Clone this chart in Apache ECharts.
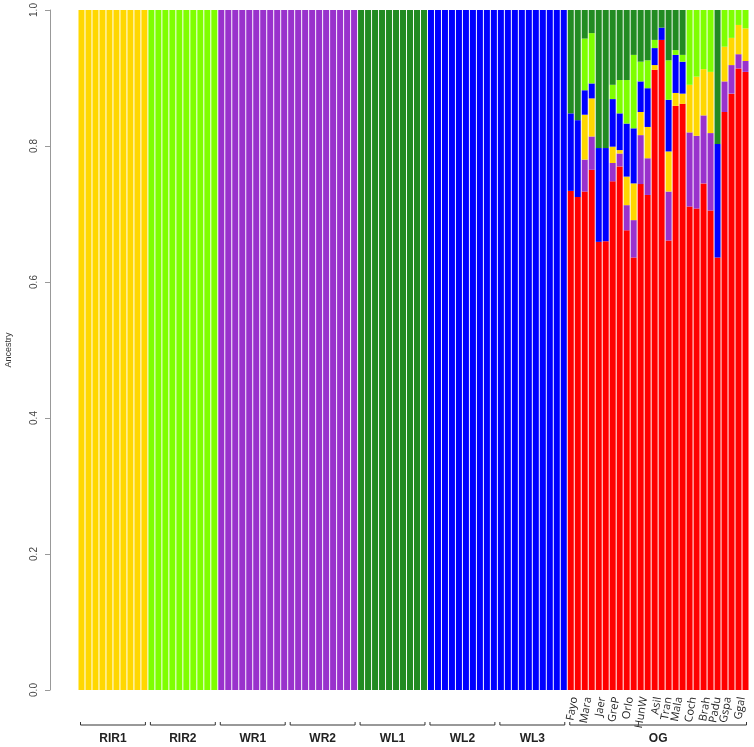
<!DOCTYPE html>
<html>
<head>
<meta charset="utf-8">
<script src="https://cdn.jsdelivr.net/npm/echarts@6/dist/echarts.min.js"></script>
<style>
  html, body { margin: 0; padding: 0; background: #fff; }
  #chart { width: 754px; height: 747px; }
</style>
</head>
<body>
<div id="chart"></div>
<script>
// sample groups along x (one bar per individual)
var groups = ['RIR1', 'RIR2', 'WR1', 'WR2', 'WL1', 'WL2', 'WL3', 'OG'];
var groupSizes = [10, 10, 10, 10, 10, 10, 10, 26];

// breeds inside OG and how many bars each has
var breeds = ['Fayo', 'Mara', 'Jaer', 'GreP', 'Orlo', 'HunW', 'Asil', 'Tran', 'Mala', 'Coch', 'Brah', 'Padu', 'Gspa', 'Ggal'];
var breedSizes = [2, 2, 2, 2, 2, 2, 2, 1, 2, 2, 2, 1, 2, 2];

var yTicks = [0, 0.2, 0.4, 0.6, 0.8, 1.0];

// reference populations (70 bars: RIR1, RIR2, WR1, WR2, WL1, WL2, WL3)
var refRed    = [0,0,0,0,0,0,0,0,0,0, 0,0,0,0,0,0,0,0,0,0, 0,0,0,0,0,0,0,0,0,0, 0,0,0,0,0,0,0,0,0,0, 0,0,0,0,0,0,0,0,0,0, 0,0,0,0,0,0,0,0,0,0, 0,0,0,0,0,0,0,0,0,0];
var refPurple = [0,0,0,0,0,0,0,0,0,0, 0,0,0,0,0,0,0,0,0,0, 1,1,1,1,1,1,1,1,1,1, 1,1,1,1,1,1,1,1,1,1, 0,0,0,0,0,0,0,0,0,0, 0,0,0,0,0,0,0,0,0,0, 0,0,0,0,0,0,0,0,0,0];
var refYellow = [1,1,1,1,1,1,1,1,1,1, 0,0,0,0,0,0,0,0,0,0, 0,0,0,0,0,0,0,0,0,0, 0,0,0,0,0,0,0,0,0,0, 0,0,0,0,0,0,0,0,0,0, 0,0,0,0,0,0,0,0,0,0, 0,0,0,0,0,0,0,0,0,0];
var refBlue   = [0,0,0,0,0,0,0,0,0,0, 0,0,0,0,0,0,0,0,0,0, 0,0,0,0,0,0,0,0,0,0, 0,0,0,0,0,0,0,0,0,0, 0,0,0,0,0,0,0,0,0,0, 1,1,1,1,1,1,1,1,1,1, 1,1,1,1,1,1,1,1,1,1];
var refLGreen = [0,0,0,0,0,0,0,0,0,0, 1,1,1,1,1,1,1,1,1,1, 0,0,0,0,0,0,0,0,0,0, 0,0,0,0,0,0,0,0,0,0, 0,0,0,0,0,0,0,0,0,0, 0,0,0,0,0,0,0,0,0,0, 0,0,0,0,0,0,0,0,0,0];
var refDGreen = [0,0,0,0,0,0,0,0,0,0, 0,0,0,0,0,0,0,0,0,0, 0,0,0,0,0,0,0,0,0,0, 0,0,0,0,0,0,0,0,0,0, 1,1,1,1,1,1,1,1,1,1, 0,0,0,0,0,0,0,0,0,0, 0,0,0,0,0,0,0,0,0,0];

// OG individuals (26 bars)
var ogRed    = [.734,.725,.733,.765,.659,.660,.748,.770,.676,.636,.744,.728,.912,.956,.661,.859,.862,.711,.708,.745,.705,.636,.850,.877,.914,.909];
var ogPurple = [0,0,.047,.049,0,0,.027,.019,.037,.055,.072,.054,0,0,.072,0,0,.109,.107,.100,.114,0,.045,.042,.021,.016];
var ogYellow = [0,0,.066,.056,0,0,.024,.005,.042,.054,.034,.046,.007,0,.059,.019,.015,.070,.087,.068,.090,0,.051,.040,.043,.048];
var ogBlue   = [.114,.113,.036,.022,.138,.137,.070,.054,.078,.081,.045,.057,.025,.018,.076,.056,.047,0,0,0,0,.167,0,0,0,0];
var ogLGreen = [0,0,.076,.074,0,0,.021,.049,.064,.108,.029,.041,.012,0,.058,.007,.010,.110,.098,.087,.091,0,.054,.041,.022,.027];
var ogDGreen = [.152,.162,.042,.034,.203,.203,.110,.103,.103,.066,.076,.074,.044,.026,.074,.059,.066,0,0,0,0,.197,0,0,0,0];

var clusters = [
  { name: 'K1', color: '#FF0000', data: refRed.concat(ogRed) },
  { name: 'K2', color: '#9932CC', data: refPurple.concat(ogPurple) },
  { name: 'K3', color: '#FFD700', data: refYellow.concat(ogYellow) },
  { name: 'K4', color: '#0000FF', data: refBlue.concat(ogBlue) },
  { name: 'K5', color: '#7FFF00', data: refLGreen.concat(ogLGreen) },
  { name: 'K6', color: '#228B22', data: refDGreen.concat(ogDGreen) }
];

var nBars = refRed.length + ogRed.length;
var cats = [];
for (var i = 0; i < nBars; i++) cats.push('s' + i);

// half-bar label axis so breed names can sit between their two bars
var halfCats = [];
for (var i = 0; i <= nBars * 2; i++) halfCats.push('');
var pos = refRed.length;
breeds.forEach(function (b, j) {
  halfCats[pos * 2 + breedSizes[j]] = b;
  pos += breedSizes[j];
});

// group bracket ranges
var brackets = [];
var start = 0;
groups.forEach(function (g, j) {
  brackets.push([start, start + groupSizes[j] - 1, 0, g]);
  start += groupSizes[j];
});

var chart = echarts.init(document.getElementById('chart'));

var series = clusters.map(function (c) {
  return {
    name: c.name,
    type: 'bar',
    stack: 'q',
    barCategoryGap: '14%',
    itemStyle: { color: c.color },
    data: c.data
  };
});

series.push({
  type: 'custom',
  clip: false,
  silent: true,
  encode: { x: [0, 1], y: 2 },
  data: brackets,
  renderItem: function (params, api) {
    var p0 = api.coord([api.value(0), 0]);
    var p1 = api.coord([api.value(1), 0]);
    var half = api.size([1, 0])[0] / 2;
    var x0 = p0[0] - half + 2.5;
    var x1 = p1[0] + half - 2.5;
    var y = p0[1] + 35;
    return {
      type: 'group',
      children: [
        {
          type: 'polyline',
          shape: { points: [[x0, y - 3], [x0, y], [x1, y], [x1, y - 3]] },
          style: { stroke: '#333', lineWidth: 1, fill: null }
        },
        {
          type: 'text',
          style: {
            text: brackets[params.dataIndex][3],
            x: (x0 + x1) / 2, y: y + 14,
            align: 'center', verticalAlign: 'middle',
            font: 'bold 12px "Liberation Sans", Arial, sans-serif',
            fill: '#222'
          }
        }
      ]
    };
  }
});

var option = {
  animation: false,
  backgroundColor: '#fff',
  grid: { left: 78, right: 5, top: 10, bottom: 57, outerBoundsMode: 'none', containLabel: false },
  xAxis: [
    {
      type: 'category',
      data: cats,
      axisLine: { show: false },
      axisTick: { show: false },
      axisLabel: { show: false }
    },
    {
      type: 'category',
      data: halfCats,
      boundaryGap: false,
      position: 'bottom',
      axisLine: { show: false },
      axisTick: { show: false },
      axisLabel: {
        interval: 0,
        rotate: 80,
        margin: 7,
        fontSize: 11,
        color: '#222',
        fontFamily: '"Open Sans", sans-serif'
      }
    }
  ],
  yAxis: {
    type: 'value',
    min: 0,
    max: 1,
    interval: 0.2,
    offset: 28,
    name: 'Ancestry',
    nameLocation: 'middle',
    nameGap: 37,
    nameTextStyle: { fontSize: 9, color: '#333', fontFamily: '"Liberation Sans Narrow", "Liberation Sans", sans-serif' },
    axisLine: { show: true, lineStyle: { color: '#999' } },
    axisTick: { show: true, length: 5, lineStyle: { color: '#999' } },
    splitLine: { show: false },
    axisLabel: {
      rotate: 90,
      margin: 11,
      fontSize: 10,
      color: '#444',
      fontFamily: '"Liberation Sans Narrow", "Liberation Sans", sans-serif',
      formatter: function (v) { return v.toFixed(1); }
    }
  },
  series: series
};

chart.setOption(option);
</script>
</body>
</html>
